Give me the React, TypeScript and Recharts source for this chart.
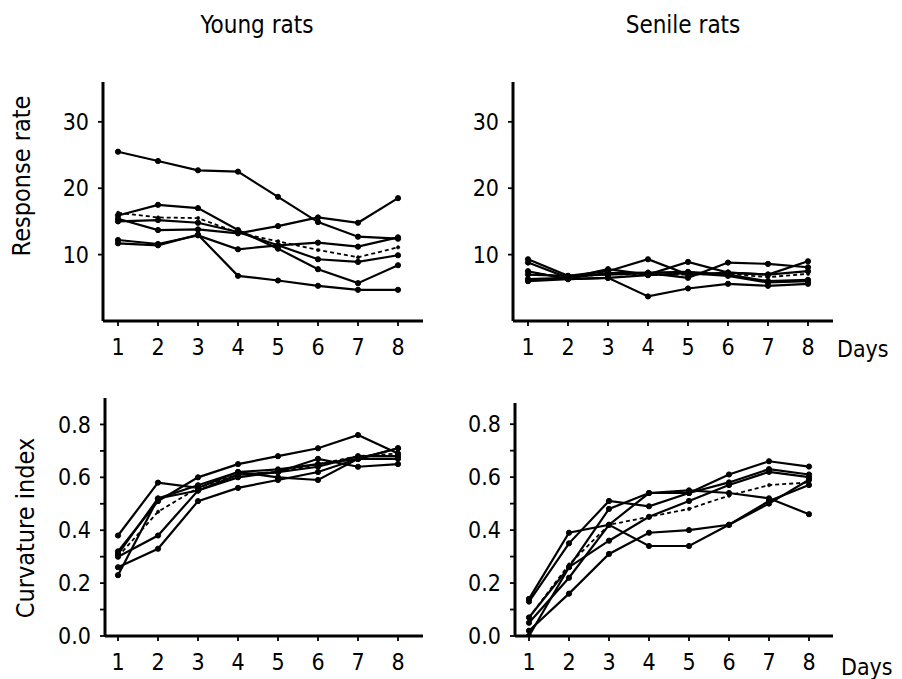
import React from 'react';
import { LineChart, Line, XAxis, YAxis } from 'recharts';

const FONT = "'Liberation Sans Narrow', 'DejaVu Sans Condensed', 'Liberation Sans', sans-serif";

const days = [1, 2, 3, 4, 5, 6, 7, 8];

// Response rate — young rats
const youngRate1 = [25.5, 24.1, 22.7, 22.5, 18.7, 14.9, 12.7, 12.4];
const youngRate2 = [15.9, 17.5, 17.0, 13.7, 10.9, 7.8, 5.7, 8.4];
const youngRate3 = [15.0, 15.2, 14.8, 13.4, 11.4, 9.3, 8.9, 9.9];
const youngRate4 = [15.4, 13.7, 13.8, 13.2, 14.3, 15.6, 14.8, 18.5];
const youngRate5 = [12.2, 11.6, 12.9, 10.8, 11.4, 11.8, 11.2, 12.6];
const youngRate6 = [11.7, 11.4, 13.0, 6.8, 6.1, 5.3, 4.7, 4.7];
const youngRateMean = [16.3, 15.6, 15.5, 13.3, 12.0, 10.7, 9.6, 11.1];

// Response rate — senile rats
const senileRate1 = [9.3, 6.8, 7.5, 9.3, 7.0, 7.3, 7.0, 7.5];
const senileRate2 = [8.8, 6.5, 7.8, 7.0, 8.9, 7.3, 7.0, 9.0];
const senileRate3 = [7.5, 6.3, 6.5, 3.7, 4.9, 5.6, 5.3, 5.6];
const senileRate4 = [7.0, 6.8, 7.0, 7.2, 6.5, 8.8, 8.6, 8.1];
const senileRate5 = [6.3, 6.5, 7.2, 7.3, 7.4, 7.0, 6.0, 6.2];
const senileRate6 = [6.0, 6.3, 6.5, 6.9, 7.2, 6.8, 5.8, 6.0];
const senileRateMean = [7.4, 6.5, 7.1, 6.9, 7.0, 7.1, 6.6, 7.1];

// Curvature index — young rats
const youngCurv1 = [0.38, 0.58, 0.56, 0.62, 0.63, 0.65, 0.67, 0.71];
const youngCurv2 = [0.32, 0.51, 0.60, 0.65, 0.68, 0.71, 0.76, 0.69];
const youngCurv3 = [0.26, 0.33, 0.51, 0.56, 0.59, 0.62, 0.67, 0.67];
const youngCurv4 = [0.23, 0.52, 0.57, 0.62, 0.60, 0.59, 0.67, 0.71];
const youngCurv5 = [0.30, 0.38, 0.55, 0.61, 0.62, 0.64, 0.68, 0.68];
const youngCurv6 = [0.31, 0.52, 0.55, 0.60, 0.62, 0.67, 0.64, 0.65];
const youngCurvMean = [0.30, 0.47, 0.56, 0.61, 0.62, 0.65, 0.68, 0.69];

// Curvature index — senile rats
const senileCurv1 = [0.14, 0.39, 0.42, 0.54, 0.55, 0.54, 0.52, 0.46];
const senileCurv2 = [0.13, 0.35, 0.51, 0.49, 0.54, 0.61, 0.66, 0.64];
const senileCurv3 = [0.07, 0.26, 0.48, 0.54, 0.54, 0.58, 0.63, 0.61];
const senileCurv4 = [0.05, 0.22, 0.42, 0.34, 0.34, 0.42, 0.50, 0.59];
const senileCurv5 = [0.02, 0.16, 0.31, 0.39, 0.40, 0.42, 0.51, 0.57];
const senileCurv6 = [0.0, 0.26, 0.36, 0.45, 0.51, 0.57, 0.62, 0.60];
const senileCurvMean = [0.07, 0.27, 0.42, 0.45, 0.48, 0.53, 0.57, 0.58];

const rateTicks = [10, 20, 30];
const curvTicks = [0, 0.1, 0.2, 0.3, 0.4, 0.5, 0.6, 0.7, 0.8];

const titles = ['Young rats', 'Senile rats'];
const yLabels = ['Response rate', 'Curvature index'];
const xUnit = 'Days';

function buildRows(series: number[][], mean: number[]) {
  return days.map((d, i) => {
    const row: Record<string, number> = { day: d, mean: mean[i] };
    series.forEach((s, k) => {
      row['s' + (k + 1)] = s[i];
    });
    return row;
  });
}

const tickStyle = { fill: '#000', fontSize: 23, fontFamily: FONT };

type PanelProps = {
  left: number;
  top: number;
  width: number;
  height: number;
  margin: { top: number; right: number; bottom: number; left: number };
  yWidth: number;
  xHeight: number;
  xDomain: [number, number];
  yDomain: [number, number];
  yTicks: number[];
  yFormat: (v: number) => string;
  series: number[][];
  mean: number[];
};

function Panel(p: PanelProps) {
  const rows = buildRows(p.series, p.mean);
  return (
    <div style={{ position: 'absolute', left: p.left, top: p.top }}>
      <LineChart width={p.width} height={p.height} data={rows} margin={p.margin}>
        <XAxis
          type="number"
          dataKey="day"
          domain={p.xDomain}
          ticks={days}
          interval={0}
          allowDataOverflow
          height={p.xHeight}
          axisLine={{ stroke: '#000', strokeWidth: 3 }}
          tickLine={{ stroke: '#000', strokeWidth: 1.8 }}
          tickSize={5}
          tickMargin={13}
          tick={tickStyle}
        />
        <YAxis
          type="number"
          domain={p.yDomain}
          ticks={p.yTicks}
          interval={0}
          allowDataOverflow
          width={p.yWidth}
          axisLine={{ stroke: '#000', strokeWidth: 3 }}
          tickLine={{ stroke: '#000', strokeWidth: 1.8 }}
          tickSize={5}
          tickMargin={9}
          tick={tickStyle}
          tickFormatter={p.yFormat}
        />
        {p.series.map((_, k) => (
          <Line
            key={k}
            type="linear"
            dataKey={'s' + (k + 1)}
            stroke="#000"
            strokeWidth={2.2}
            dot={{ r: 2.6, fill: '#000', stroke: '#000', strokeWidth: 1 }}
            isAnimationActive={false}
          />
        ))}
        <Line
          type="linear"
          dataKey="mean"
          stroke="#000"
          strokeWidth={1.8}
          strokeDasharray="4 3"
          dot={{ r: 1.8, fill: '#000', stroke: '#000', strokeWidth: 0.5 }}
          isAnimationActive={false}
        />
      </LineChart>
    </div>
  );
}

const rateFmt = (v: number) => String(v);
const curvFmt = (v: number) => (Math.round(v * 10) % 2 === 0 ? v.toFixed(1) : '');

export default function App() {
  return (
    <div style={{ position: 'absolute', left: 0, top: 0, width: 902, height: 679, background: '#fff', overflow: 'hidden' }}>
      <Panel
        left={0} top={0} width={440} height={380}
        margin={{ top: 82, right: 17, bottom: 9, left: 0 }}
        yWidth={103} xHeight={50}
        xDomain={[0.625, 8.625]} yDomain={[0, 36]} yTicks={rateTicks} yFormat={rateFmt}
        series={[youngRate1, youngRate2, youngRate3, youngRate4, youngRate5, youngRate6]}
        mean={youngRateMean}
      />
      <Panel
        left={410} top={0} width={440} height={380}
        margin={{ top: 82, right: 17, bottom: 9, left: 0 }}
        yWidth={103} xHeight={50}
        xDomain={[0.625, 8.625]} yDomain={[0, 36]} yTicks={rateTicks} yFormat={rateFmt}
        series={[senileRate1, senileRate2, senileRate3, senileRate4, senileRate5, senileRate6]}
        mean={senileRateMean}
      />
      <Panel
        left={0} top={380} width={440} height={299}
        margin={{ top: 18, right: 17, bottom: 3, left: 0 }}
        yWidth={105} xHeight={40}
        xDomain={[0.675, 8.625]} yDomain={[0, 0.9]} yTicks={curvTicks} yFormat={curvFmt}
        series={[youngCurv1, youngCurv2, youngCurv3, youngCurv4, youngCurv5, youngCurv6]}
        mean={youngCurvMean}
      />
      <Panel
        left={410} top={380} width={440} height={299}
        margin={{ top: 23, right: 17, bottom: 3, left: 0 }}
        yWidth={105} xHeight={40}
        xDomain={[0.65, 8.6]} yDomain={[0, 0.88]} yTicks={curvTicks} yFormat={curvFmt}
        series={[senileCurv1, senileCurv2, senileCurv3, senileCurv4, senileCurv5, senileCurv6]}
        mean={senileCurvMean}
      />
      <svg width={902} height={679} style={{ position: 'absolute', left: 0, top: 0, pointerEvents: 'none' }}>
        <g fontFamily={FONT} fontSize={24} fill="#000">
          <text x={257} y={33} textAnchor="middle">{titles[0]}</text>
          <text x={683} y={33} textAnchor="middle">{titles[1]}</text>
          <text x={30} y={176} textAnchor="middle" fontSize={25} transform="rotate(-90 30 176)">{yLabels[0]}</text>
          <text x={34} y={528} textAnchor="middle" fontSize={25} transform="rotate(-90 34 528)">{yLabels[1]}</text>
          <text x={837} y={357} fontSize={23}>{xUnit}</text>
          <text x={841} y={675} fontSize={23}>{xUnit}</text>
        </g>
      </svg>
    </div>
  );
}
